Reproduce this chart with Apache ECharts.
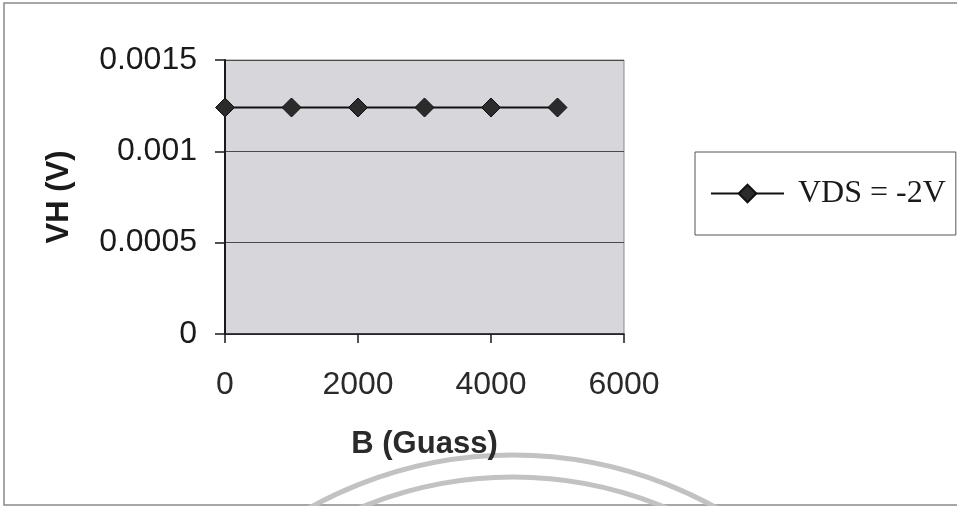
<!DOCTYPE html>
<html>
<head>
<meta charset="utf-8">
<style>
  html, body { margin: 0; padding: 0; background: #ffffff; }
  #chart { width: 957px; height: 506px; }
</style>
<script src="https://cdn.jsdelivr.net/npm/echarts@6/dist/echarts.min.js"></script>
</head>
<body>
<div id="chart"></div>
<script>
// Hall voltage versus magnetic field at a fixed drain-source bias
const fieldGauss = [0, 1000, 2000, 3000, 4000, 5000];
const hallVoltage = [0.00124, 0.00124, 0.00124, 0.00124, 0.00124, 0.00124];
const seriesName = 'VDS = -2V';
const xTicks = { min: 0, max: 6000, interval: 2000 };
const yTicks = { min: 0, max: 0.0015, interval: 0.0005 };

const chart = echarts.init(document.getElementById('chart'));

chart.setOption({
  backgroundColor: '#ffffff',
  animation: false,
  graphic: [
    // page frame
    {
      type: 'rect', z: -10, silent: true,
      shape: { x: 4, y: 3, width: 960, height: 502 },
      style: { fill: 'none', stroke: '#8a8a8a', lineWidth: 1.5 }
    },
    // faint stamp rings along the bottom edge
    {
      type: 'circle', z: -5, silent: true,
      shape: { cx: 513, cy: 873, r: 418 },
      style: { fill: 'none', stroke: '#c2c2c2', lineWidth: 5 }
    },
    {
      type: 'circle', z: -5, silent: true,
      shape: { cx: 513, cy: 873, r: 396 },
      style: { fill: 'none', stroke: '#c2c2c2', lineWidth: 5 }
    }
  ],
  grid: {
    left: 225, right: 333, top: 60, bottom: 172,
    show: true,
    backgroundColor: '#d6d6db',
    borderColor: '#8c8c8c',
    borderWidth: 1
  },
  legend: {
    left: 695, top: 152,
    orient: 'vertical',
    data: [seriesName],
    itemWidth: 73, itemHeight: 22,
    padding: [24, 10, 24, 15],
    borderColor: '#555',
    borderWidth: 1,
    backgroundColor: '#ffffff',
    textStyle: {
      fontFamily: '"Liberation Serif", "Times New Roman", serif',
      fontSize: 32,
      color: '#1a1a1a',
      padding: [0, 0, 0, 9],
      lineHeight: 35
    }
  },
  xAxis: {
    type: 'value',
    min: xTicks.min, max: xTicks.max, interval: xTicks.interval,
    name: 'B (Guass)',
    nameLocation: 'middle',
    nameGap: 95,
    nameTextStyle: {
      fontFamily: '"Liberation Sans", Arial, sans-serif',
      fontWeight: 'bold', fontSize: 31, color: '#2a2a2a'
    },
    axisLine: { show: true, onZero: false, lineStyle: { color: '#1a1a1a', width: 1.5 } },
    axisTick: { show: true, inside: false, length: 9, lineStyle: { color: '#1a1a1a', width: 1.5 } },
    axisLabel: {
      margin: 35,
      fontFamily: '"Liberation Sans", Arial, sans-serif',
      fontSize: 32, color: '#2a2a2a',
      formatter: (v) => String(v)
    },
    splitLine: { show: false }
  },
  yAxis: {
    type: 'value',
    min: yTicks.min, max: yTicks.max, interval: yTicks.interval,
    name: 'VH (V)',
    nameLocation: 'middle',
    nameGap: 150,
    nameTextStyle: {
      fontFamily: '"Liberation Sans", Arial, sans-serif',
      fontWeight: 'bold', fontSize: 31, color: '#1a1a1a'
    },
    axisLine: { show: true, lineStyle: { color: '#1a1a1a', width: 2 } },
    axisTick: { show: true, inside: false, length: 10, lineStyle: { color: '#1a1a1a', width: 1.5 } },
    axisLabel: {
      margin: 28,
      fontFamily: '"Liberation Sans", Arial, sans-serif',
      fontSize: 32, color: '#1a1a1a',
      formatter: (v) => String(v)
    },
    splitLine: { show: true, lineStyle: { color: '#4a4a4a', width: 1.2 } }
  },
  series: [{
    name: seriesName,
    type: 'line',
    data: fieldGauss.map((b, i) => [b, hallVoltage[i]]),
    symbol: 'diamond',
    symbolSize: [19, 19],
    showAllSymbol: true,
    lineStyle: { color: '#111111', width: 2 },
    itemStyle: { color: '#2b2b2b', borderColor: '#111111', borderWidth: 1 },
    emphasis: { disabled: true }
  }]
});
</script>
</body>
</html>
